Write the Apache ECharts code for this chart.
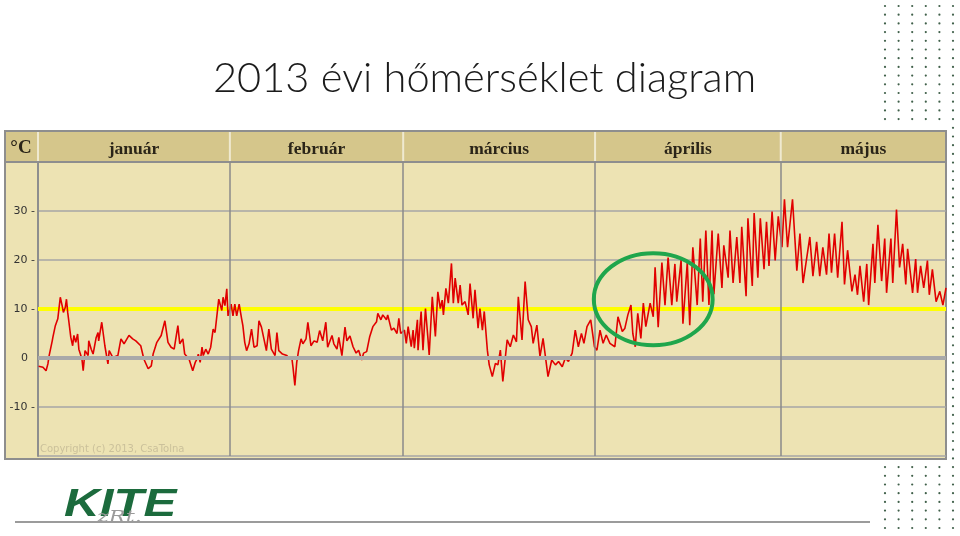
<!DOCTYPE html>
<html><head><meta charset="utf-8">
<script src="https://cdn.jsdelivr.net/npm/echarts@6/dist/echarts.min.js"></script>
<style>html,body{margin:0;padding:0;background:#fff}#c{width:960px;height:536px}</style>
</head><body><div id="c"></div>
<script>
const titleText = '2013 évi hőmérséklet diagram';
const monthNames = ['január', 'február', 'március', 'április', 'május'];
const monthLengths = [31, 28, 31, 30, 31];
const shownDays = 146.7;          // chart is cut off late May
const yMin = -20, yMax = 40, yStep = 10;
const yLabelValues = [-10, 0, 10, 20, 30];
const threshold = 10;             // yellow line
const unitLabel = '°C';
const copyrightText = 'Copyright (c) 2013, CsaTolna';
const logoText = 'KITE';
const logoSub = 'zRt.';
// highlighted region (days since Jan 1, °C): centre and radii
const highlight = { day: 99.4, temp: 12, rDays: 9.6, rTemp: 9.4 };

// temperature readings: [day within month, °C]
const jan = [[0.1,-1.7],[0.8,-1.9],[1.3,-2.6],[1.6,-1.2],[1.8,0.5],[2.3,3.5],[2.4,4.2],[2.8,6.6],[3.2,8],[3.6,12.4],[3.9,10.7],[4.1,9.3],[4.4,10.3],[4.6,12],[4.8,9.3],[5.0,7.3],[5.3,4.2],[5.6,2.5],[5.8,4.6],[6.1,3.2],[6.4,4.9],[6.6,1.8],[7.1,-0.2],[7.3,-2.6],[7.6,1.5],[8.1,0.5],[8.2,3.5],[8.6,1.8],[8.9,0.8],[9.4,4.2],[9.7,5.2],[9.8,3.5],[10.3,7.3],[10.6,6.9],[10.8,2.5],[11.3,-1.2],[11.5,1.5],[12.1,0.1],[12.9,0.5],[13.4,3.9],[13.9,2.9],[14.7,4.6],[15.3,3.9],[15.8,3.5],[16.6,2.5],[17.1,-0.2],[17.8,-2.2],[18.3,-1.6],[18.6,0.8],[19.2,3.2],[19.9,4.6],[20.5,7.6],[21,3.2],[21.5,2.2],[22,1.8],[22.6,6.6],[22.9,2.9],[23.4,3.9],[23.7,0.8],[24.4,-0.2],[25,-2.6],[25.4,-0.9],[25.7,-0.2],[25.9,0.8],[26.2,-0.9],[26.5,2.2],[26.7,0.5],[27.1,1.8],[27.5,0.8],[27.9,2.2],[28.3,5.9],[28.6,5.2],[28.9,8.6],[29.2,12],[29.7,9.7],[29.9,12.4],[30.2,10.7],[30.5,14.1],[30.7,8.6]];
const feb = [[0.2,11],[0.5,8.6],[0.8,11],[1.1,8.6],[1.5,11],[1.9,8],[2.1,6.6],[2.4,3.2],[2.7,1.5],[3.1,2.9],[3.5,5.9],[3.9,2.2],[4.4,2.5],[4.7,7.6],[5.1,6.3],[5.5,3.9],[5.9,1.5],[6.3,5.9],[6.7,1.8],[7.3,0.5],[7.6,5.2],[7.9,1.5],[8.5,0.8],[9.2,0.5],[9.6,-0.2],[10,0.1],[10.2,-1.9],[10.5,-5.6],[10.8,-0.9],[11.1,1.5],[11.5,3.9],[11.8,2.9],[12.3,3.9],[12.6,7.3],[13.1,2.5],[13.6,3.5],[14.1,3.2],[14.5,5.6],[15,3.5],[15.5,7.3],[15.8,2.2],[16.5,4.6],[16.8,2.9],[17.3,1.8],[17.6,4.2],[18.1,0.5],[18.6,6.3],[18.9,3.5],[19.4,4.5],[19.9,2.3],[20.4,1],[20.8,1.6],[21.3,-0.4],[21.6,1],[22.1,1.3],[22.6,4.4],[23.1,6.4],[23.7,7.4],[23.9,9.1],[24.4,7.8],[24.7,8.8],[25.3,7.8],[25.5,8.8],[26.1,5.7],[26.5,6.1],[27,5],[27.3,8.1],[27.6,5]];
const mar = [[0.2,5.7],[0.5,3],[0.8,6.4],[1.3,2.3],[1.6,5.7],[1.8,2],[2.3,7.8],[2.4,1.6],[2.9,9.5],[3.2,1.6],[3.6,10.1],[4,4],[4.2,0.6],[4.7,12.5],[5.2,4.4],[5.6,13.5],[6,10.1],[6.3,11.8],[6.5,8.8],[6.9,14.2],[7.3,11.2],[7.8,19.3],[8.1,11.2],[8.4,16.3],[8.9,11.2],[9.2,14.9],[9.5,10.8],[10,11.5],[10.5,8.8],[10.8,15.2],[11.3,8.1],[11.6,13.9],[12.1,6.1],[12.4,10.1],[12.8,5.7],[13.1,9.5],[13.6,1.6],[13.9,-1.4],[14.4,-3.8],[14.9,-1.1],[15.3,-1.4],[15.7,1.6],[16.1,-4.8],[16.8,3.7],[17.3,2.3],[17.8,4.7],[18.3,3.3],[18.6,12.5],[19.2,3.7],[19.7,15.6],[20.2,7.8],[20.7,6.4],[21,3],[21.6,6.7],[22.1,0.3],[22.6,4],[23.4,-3.8],[24,-0.4],[24.6,-1.4],[25.1,-0.7],[25.7,-1.8],[26.2,0],[26.7,-0.7],[27.3,1],[27.8,5.7],[28.3,2.3],[28.8,5],[29.2,3],[29.7,6.4],[30.3,7.8],[30.9,2.3]];
const apr = [[0.3,1.6],[0.8,5.7],[1.3,3],[1.8,4.7],[2.4,3],[3.2,2.3],[3.7,8.4],[4.4,5.4],[4.8,6],[5.3,8.8],[5.8,10.8],[6.1,5],[6.5,2.3],[6.9,9.1],[7.4,4],[7.8,11.2],[8.2,6.4],[8.9,11.2],[9.4,8.4],[9.7,18.5],[10.2,6.3],[10.8,19.5],[11.3,10.8],[11.8,20.5],[12.4,10.8],[12.9,19.2],[13.2,11.5],[13.9,20],[14.2,7],[14.9,19.5],[15.3,6.7],[15.8,22.6],[16.5,10.8],[17,24.4],[17.4,11.5],[17.9,26],[18.4,10.8],[18.9,26],[19.2,13],[19.9,25.4],[20.5,14.3],[20.8,23],[21.5,16.4],[21.8,26],[22.3,15.3],[22.9,24.7],[23.4,15.3],[23.7,26.8],[24.4,12.6],[24.7,28.5],[25.4,14.7],[25.7,29.6],[26.3,16.4],[26.7,28.5],[27.3,18.1],[27.7,27.8],[28.1,18.8],[28.6,29.9],[29.1,19.9],[29.6,28.9]];
const may = [[0.2,22.6],[0.6,32.4],[1.1,22.6],[1.9,32.4],[2.6,17.8],[3.1,25.4],[3.6,15.3],[4.7,24.7],[5.2,16.7],[5.8,23.7],[6.3,16.7],[6.8,22.6],[7.4,17],[7.8,25.4],[8.2,17.4],[8.7,25.4],[9.2,16.4],[9.9,27.8],[10.3,15],[10.8,22],[11.5,13.6],[12,17],[12.4,12.9],[12.8,18.8],[13.4,11.5],[13.9,19.2],[14.2,10.8],[14.9,23.3],[15.2,15.3],[15.7,27.2],[16.3,15.7],[16.8,24.4],[17.1,13.3],[17.8,24.4],[18.1,15.3],[18.7,30.3],[19.2,18.5],[19.7,23.3],[20.2,15],[20.5,22.3],[21.3,13.3],[21.8,20.2],[22.1,13.3],[22.6,18.8],[23.1,14.3],[23.7,19.9],[24,12.9],[24.5,18.1],[25.1,11.5],[25.7,13.6],[26.2,10.8],[26.7,14.3]];

const monthData = [jan, feb, mar, apr, may];
const monthStarts = [];
monthLengths.reduce((acc, len) => { monthStarts.push(acc); return acc + len; }, 0);
const tempData = monthData.flatMap((arr, i) => arr.map(p => [monthStarts[i] + p[0], p[1]]));

const C = {
  plotBg: '#ede3b3', headerBg: '#d5c68b', grid: '#a6a6a6', frame: '#8e8e8e',
  red: '#e10000', yellow: '#ffff00', green: '#1fa64c', logo: '#1c6b3d'
};

const chart = echarts.init(document.getElementById('c'), null, { renderer: 'canvas' });

const staticGraphics = [];
staticGraphics.push({ type: 'rect', id: 'frame', z: -10, shape: { x: 5, y: 131, width: 941, height: 328 },
  style: { fill: C.plotBg, stroke: C.frame, lineWidth: 2 } });
staticGraphics.push({ type: 'rect', id: 'header', z: -9, shape: { x: 6, y: 132, width: 939, height: 29 },
  style: { fill: C.headerBg } });
staticGraphics.push({ type: 'line', id: 'headerLine', z: 5, shape: { x1: 5, y1: 162, x2: 946, y2: 162 },
  style: { stroke: C.frame, lineWidth: 2 } });
staticGraphics.push({ type: 'text', id: 'unit', z: 5, style: { text: unitLabel, x: 21, y: 148, align: 'center', verticalAlign: 'middle',
  fontFamily: 'Liberation Serif', fontWeight: 'bold', fontSize: 19, fill: '#2a2418' } });
staticGraphics.push({ type: 'text', id: 'copy', z: 5, style: { text: copyrightText, x: 40, y: 449, verticalAlign: 'middle',
  fontFamily: 'DejaVu Sans', fontSize: 10, fill: '#cbc19b' } });
staticGraphics.push({ type: 'line', id: 'footLine', shape: { x1: 15, y1: 522, x2: 870, y2: 522 },
  style: { stroke: '#7a7a7a', lineWidth: 1.5 } });
staticGraphics.push({ type: 'text', id: 'logo', x: 64, y: 487, scaleX: 1.3, style: { text: logoText, x: 0, y: 0,
  fontFamily: 'Liberation Sans', fontWeight: 'bold', fontStyle: 'italic', fontSize: 38, fill: C.logo } });
staticGraphics.push({ type: 'text', id: 'logoSub', z: 6, x: 97, y: 510, scaleX: 1.4, style: { text: logoSub, x: 0, y: 0,
  fontFamily: 'DejaVu Serif', fontStyle: 'italic', fontSize: 16, fill: '#9a9a9a' } });
for (let i = 0; i < 6; i++) {
  const x = 885 + i * 13.6;
  for (let r = 0; r < 61; r++) {
    const y = 6 + r * 8.7;
    if (x < 947 && y > 127 && y < 463) continue;
    staticGraphics.push({ type: 'circle', silent: true, shape: { cx: x, cy: y, r: 1.1 }, style: { fill: '#40604a' } });
  }
}

chart.setOption({
  backgroundColor: '#ffffff',
  animation: false,
  title: { text: titleText, left: 208, top: 53,
    textStyle: { fontFamily: 'Lato', fontWeight: 300, fontSize: 41.6, color: '#1b1b1b' } },
  grid: { left: 38, right: 14, top: 162, bottom: 80 },
  xAxis: { type: 'value', min: 0, max: shownDays, show: true,
    axisLine: { show: false }, axisTick: { show: false }, axisLabel: { show: false }, splitLine: { show: false } },
  yAxis: { type: 'value', min: yMin, max: yMax, interval: yStep,
    axisLine: { show: true, lineStyle: { color: C.frame, width: 2 } },
    axisTick: { show: false },
    axisLabel: { fontFamily: 'DejaVu Sans', fontSize: 11, color: '#333', margin: 3,
      formatter: v => yLabelValues.includes(v) ? (v === 0 ? '0  ' : v + ' -') : '' },
    splitLine: { lineStyle: { color: C.grid, width: 1.5 } } },
  series: [
    { name: 'rács', type: 'line', data: [], z: 1, silent: true,
      markLine: { silent: true, symbol: 'none', label: { show: false },
        data: [
          { yAxis: 0, lineStyle: { color: '#a9a9a9', width: 4, type: 'solid' } },
          ...monthStarts.slice(1).map(d => ({ xAxis: d, lineStyle: { color: '#8a8a8a', width: 1.5, type: 'solid' } }))
        ] } },
    { name: 'küszöb', type: 'line', z: 2, silent: true, symbol: 'none',
      data: [[0, threshold], [shownDays, threshold]], lineStyle: { color: C.yellow, width: 4 } },
    { name: 'hőmérséklet', type: 'line', z: 3, symbol: 'none', data: tempData,
      lineStyle: { color: C.red, width: 1.6 } }
  ],
  graphic: staticGraphics
});

const px = (d, t) => chart.convertToPixel({ gridIndex: 0 }, [d, t]);
const dyn = [];
const bounds = monthStarts.concat([shownDays]);
monthNames.forEach((name, i) => {
  const a = px(bounds[i], 0)[0], b = px(Math.min(bounds[i] + monthLengths[i], shownDays), 0)[0];
  dyn.push({ type: 'text', id: 'm' + i, z: 6, style: { text: name, x: (a + b) / 2, y: 149, align: 'center', verticalAlign: 'middle',
    fontFamily: 'Liberation Serif', fontWeight: 'bold', fontSize: 17.5, fill: '#2a2418' } });
  dyn.push({ type: 'line', id: 's' + i, z: 6, shape: { x1: a, y1: 132, x2: a, y2: 161 },
    style: { stroke: '#efe9d0', lineWidth: 2 } });
});
const c0 = px(highlight.day, highlight.temp);
const c1 = px(highlight.day + highlight.rDays, highlight.temp + highlight.rTemp);
dyn.push({ type: 'ellipse', id: 'hl', z: 10, shape: { cx: c0[0], cy: c0[1], rx: Math.abs(c1[0] - c0[0]), ry: Math.abs(c1[1] - c0[1]) },
  style: { fill: 'none', stroke: C.green, lineWidth: 4 } });
chart.setOption({ graphic: staticGraphics.concat(dyn) });
</script>
</body></html>
